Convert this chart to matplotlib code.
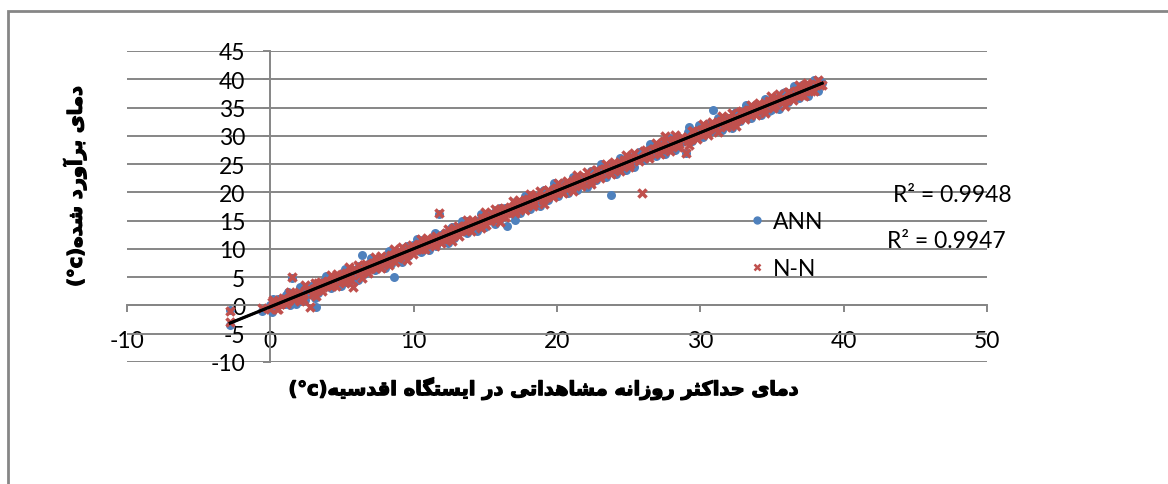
import numpy as np
import matplotlib.pyplot as plt
import matplotlib.patheffects as pe
from matplotlib.lines import Line2D
from matplotlib.patches import Rectangle

# observed daily max temperature (x) and the two model estimates (y)
observed = [
    -2.8, -2.8, -0.6, 0.2, 0.5, 0.9, 1.2, 1.4, 1.5, 1.8,
    2.1, 2.4, 2.8, 3.1, 3.2, 3.5, 3.9, 4.2, 4.6, 4.9,
    5.2, 5.5, 5.8, 6.1, 6.4, 6.7, 7.0, 7.3, 7.7, 8.0,
    8.3, 8.6, 8.9, 9.2, 9.5, 9.9, 10.2, 10.5, 10.8, 11.1,
    11.5, 11.8, 12.1, 12.4, 12.7, 13.1, 13.4, 13.7, 14.0, 14.4,
    14.7, 15.0, 15.3, 15.7, 16.0, 16.3, 16.5, 16.9, 17.1, 17.4,
    17.8, 18.1, 18.4, 18.8, 19.1, 19.4, 19.8, 20.1, 20.4, 20.8,
    21.1, 21.4, 21.8, 22.1, 22.4, 22.8, 23.1, 23.4, 23.8, 24.1,
    24.4, 24.8, 25.1, 25.4, 25.9, 26.2, 26.5, 26.9, 27.2, 27.5,
    27.9, 28.2, 28.5, 29.0, 29.2, 29.5, 29.9, 30.2, 30.5, 30.9,
    31.2, 31.5, 31.9, 32.2, 32.5, 32.9, 33.2, 33.5, 33.9, 34.2,
    34.5, 34.9, 35.2, 35.5, 35.9, 36.2, 36.5, 36.9, 37.2, 37.5,
    37.9, 38.2, 38.5,
    0.0, 0.35, 0.7, 1.05, 1.65, 1.95, 2.25, 2.6, 2.95, 3.35,
    3.7, 4.05, 4.4, 4.75, 5.05, 5.35, 5.65, 5.95, 6.25, 6.55,
    6.85, 7.15, 7.5, 7.85, 8.15, 8.45, 8.75, 9.05, 9.35, 9.7,
    10.05, 10.35, 10.65, 10.95, 11.3, 11.65, 11.95, 12.25, 12.55, 12.9,
    13.25, 13.55, 13.85, 14.2, 14.55, 14.85, 15.15, 15.5, 15.85, 16.15,
    16.45, 16.75, 17.0, 17.25, 17.6, 17.95, 18.25, 18.6, 18.95, 19.25,
    19.6, 19.95, 20.25, 20.6, 20.95, 21.25, 21.6, 21.95, 22.25, 22.6,
    22.95, 23.25, 23.6, 23.95, 24.25, 24.6, 24.95, 25.25, 25.65, 26.05,
    26.35, 26.7, 27.05, 27.35, 27.7, 28.05, 28.35, 28.75, 29.1, 29.35,
    29.7, 30.05, 30.35, 30.7, 31.05, 31.35, 31.7, 32.05, 32.35, 32.7,
    33.05, 33.35, 33.7, 34.05, 34.35, 34.7, 35.05, 35.35, 35.7, 36.05,
    36.35, 36.7, 37.05, 37.35, 37.7, 38.05, 38.35,
    0.1, 0.45, 0.8, 1.1, 1.35, 1.7, 2.0, 2.3, 2.65, 3.0,
    3.3, 3.6, 3.95, 4.3, 4.65, 5.0, 5.3, 5.6, 5.9, 6.2,
    6.5, 6.8, 7.1, 7.4, 7.75, 8.1, 8.4, 8.7, 9.0, 9.3,
    9.6, 9.95, 10.3, 10.6, 10.9, 11.2, 11.55, 11.9, 12.2, 12.5,
    12.8, 13.15, 13.45, 13.75, 14.1, 14.45, 14.75, 15.05, 15.4, 15.75,
    16.05, 16.4, 16.7, 17.05, 17.35, 17.7, 18.0, 18.35, 18.7, 19.0,
    19.35, 19.7, 20.0, 20.35, 20.7, 21.0, 21.35, 21.7, 22.0, 22.35,
    22.7, 23.0, 23.35, 23.7, 24.0, 24.35, 24.7, 25.0, 25.35, 25.75,
    26.1, 26.45, 26.8, 27.1, 27.45, 27.8, 28.1, 28.45, 28.8, 29.15,
    29.45, 29.8, 30.1, 30.45, 30.8, 31.1, 31.45, 31.8, 32.1, 32.45,
    32.8, 33.1, 33.45, 33.8, 34.1, 34.45, 34.8, 35.1, 35.45, 35.8,
    36.1, 36.45, 36.8, 37.1, 37.45, 37.8,
]

ann_pred = [
    -3.4, -0.8, -0.9, 1.2, 1.2, 0.2, 2.4, 0.1, 4.9, 0.3,
    3.2, 1.0, 3.2, 1.4, -0.2, 2.9, 5.2, 3.0, 4.6, 3.5,
    6.4, 4.2, 6.3, 4.5, 9.0, 6.2, 8.4, 6.2, 7.8, 6.6,
    9.6, 5.1, 9.5, 7.7, 10.5, 9.5, 11.7, 9.5, 11.0, 9.8,
    12.9, 16.2, 12.8, 11.0, 13.8, 12.8, 15.0, 12.8, 14.3, 13.2,
    16.1, 13.9, 16.1, 14.4, 17.2, 16.1, 14.0, 16.1, 15.2, 16.3,
    19.3, 17.1, 19.3, 17.6, 20.4, 19.3, 21.6, 19.4, 20.9, 19.8,
    22.7, 20.5, 22.8, 21.0, 23.8, 22.8, 25.0, 22.8, 19.6, 23.2,
    26.1, 24.0, 26.2, 24.4, 27.4, 26.3, 28.5, 26.4, 27.9, 26.7,
    29.7, 27.5, 29.7, 26.9, 31.6, 29.7, 32.0, 29.8, 31.3, 34.6,
    33.1, 31.0, 33.2, 31.4, 34.2, 33.2, 35.4, 33.2, 34.8, 33.6,
    36.5, 34.5, 36.6, 34.8, 37.7, 36.6, 38.8, 36.7, 38.2, 37.0,
    39.8, 38.0, 39.3,
    0.1, -0.2, 0.5, 0.3, 1.7, 1.6, 2.5, 2.0, 2.7, 3.4,
    3.9, 3.6, 4.3, 4.1, 5.2, 5.1, 6.0, 5.4, 6.1, 6.7,
    7.2, 6.8, 7.5, 7.3, 8.4, 8.3, 9.2, 8.6, 9.3, 9.9,
    10.5, 10.1, 10.8, 10.5, 11.6, 11.6, 12.5, 11.9, 12.6, 13.2,
    13.8, 13.4, 14.1, 13.8, 15.0, 14.9, 15.8, 15.3, 16.0, 16.5,
    17.0, 16.7, 17.3, 17.0, 18.1, 18.1, 19.0, 18.5, 19.2, 19.7,
    20.3, 20.0, 20.7, 20.4, 21.6, 21.5, 22.5, 21.9, 22.6, 23.2,
    23.7, 23.4, 24.1, 23.9, 25.0, 24.9, 25.9, 25.3, 26.1, 26.7,
    27.2, 26.9, 27.7, 27.4, 28.5, 28.5, 29.4, 28.9, 29.7, 30.1,
    30.7, 30.4, 31.1, 30.8, 32.0, 31.9, 32.9, 32.3, 33.0, 33.6,
    34.1, 33.8, 34.5, 34.3, 35.4, 35.3, 36.3, 35.7, 36.5, 37.0,
    37.5, 37.2, 38.0, 37.7, 38.8, 38.8, 39.7,
    -1.1, 0.9, 0.3, 1.8, 0.5, 1.9, 0.7, 2.6, 2.0, 3.7,
    2.2, 4.1, 3.6, 5.1, 3.9, 5.3, 4.1, 6.0, 5.4, 7.0,
    5.5, 7.4, 6.8, 8.3, 7.1, 8.4, 7.3, 9.2, 8.6, 10.2,
    8.7, 10.7, 10.1, 11.6, 10.3, 11.6, 10.5, 12.5, 11.9, 13.5,
    12.0, 13.9, 13.4, 14.9, 13.6, 15.0, 13.8, 15.7, 15.2, 16.8,
    15.3, 17.3, 16.7, 18.3, 17.0, 18.3, 17.1, 19.1, 18.6, 20.2,
    18.7, 20.7, 20.1, 21.7, 20.4, 21.7, 20.6, 22.6, 22.0, 23.6,
    22.2, 24.1, 23.6, 25.1, 23.8, 25.2, 24.0, 26.0, 25.4, 27.1,
    25.7, 27.6, 27.1, 28.6, 27.4, 28.7, 27.5, 29.5, 29.0, 30.6,
    29.1, 31.1, 30.5, 32.1, 30.8, 32.1, 31.0, 33.0, 32.4, 34.0,
    32.6, 34.5, 34.0, 35.5, 34.2, 35.6, 34.4, 36.4, 35.8, 37.5,
    36.0, 37.9, 37.4, 38.9, 37.7, 39.0,
]

nn_pred = [
    -3.0, -0.9, -0.5, 1.0, -0.6, 1.4, 0.7, 2.4, 5.0, 2.0,
    0.8, 3.6, -0.2, 4.0, 1.6, 4.1, 3.5, 5.3, 3.5, 5.3,
    4.0, 6.8, 3.2, 7.1, 4.9, 7.4, 6.7, 8.5, 6.7, 8.4,
    7.2, 10.0, 8.4, 10.3, 8.1, 10.7, 10.0, 11.8, 9.9, 11.6,
    10.5, 16.3, 11.7, 13.6, 11.4, 14.0, 13.3, 15.1, 13.2, 15.0,
    13.7, 16.6, 15.0, 17.0, 14.8, 17.3, 16.5, 18.4, 16.4, 18.1,
    16.9, 19.7, 18.2, 20.2, 18.0, 20.5, 19.9, 21.7, 19.8, 21.6,
    20.3, 23.1, 21.7, 23.6, 21.4, 24.0, 23.3, 25.1, 23.3, 25.0,
    23.7, 26.6, 25.1, 27.0, 19.8, 27.5, 26.8, 28.7, 26.8, 29.9,
    27.3, 30.1, 28.6, 26.9, 28.4, 30.9, 30.3, 32.1, 30.2, 32.0,
    30.7, 33.5, 32.1, 34.0, 31.8, 34.4, 33.7, 35.5, 33.7, 35.4,
    34.1, 37.0, 35.5, 37.4, 35.3, 37.8, 37.1, 39.0, 37.1, 38.8,
    38.0, 39.8, 39.0,
    -0.6, 0.5, 0.3, 1.1, 0.9, 1.9, 1.8, 2.9, 2.8, 2.8,
    3.2, 4.3, 4.1, 4.9, 4.4, 5.4, 5.3, 6.3, 6.2, 6.1,
    6.5, 7.5, 7.3, 8.1, 7.6, 8.6, 8.5, 9.5, 9.4, 9.3,
    9.8, 10.8, 10.6, 11.3, 10.8, 11.9, 11.8, 12.8, 12.7, 12.6,
    13.1, 14.1, 13.9, 14.6, 14.2, 15.2, 15.1, 16.2, 16.1, 15.9,
    16.3, 17.4, 17.1, 17.8, 17.3, 18.4, 18.3, 19.4, 19.3, 19.1,
    19.6, 20.7, 20.5, 21.2, 20.8, 21.8, 21.8, 22.8, 22.7, 22.6,
    23.0, 24.1, 23.9, 24.7, 24.2, 25.2, 25.2, 26.2, 26.2, 26.1,
    26.5, 27.6, 27.5, 28.2, 27.7, 28.8, 28.7, 29.8, 29.8, 29.5,
    30.0, 31.1, 30.9, 31.6, 31.2, 32.2, 32.2, 33.2, 33.1, 33.0,
    33.4, 34.5, 34.3, 35.1, 34.6, 35.6, 35.6, 36.6, 36.6, 36.4,
    36.8, 37.9, 37.8, 38.5, 38.0, 39.1, 39.0,
    0.6, -0.7, 0.8, 0.2, 2.1, 1.2, 2.4, 1.1, 2.5, 2.1,
    3.9, 2.5, 4.1, 3.5, 5.5, 4.6, 5.8, 4.5, 5.9, 5.4,
    7.2, 5.8, 7.3, 6.7, 8.7, 7.7, 9.0, 7.7, 9.1, 8.6,
    10.4, 9.1, 10.6, 10.0, 11.9, 10.9, 12.2, 11.0, 12.4, 11.9,
    13.7, 12.3, 13.9, 13.3, 15.2, 14.3, 15.5, 14.2, 15.7, 15.2,
    17.0, 15.7, 17.2, 16.7, 18.6, 17.6, 18.8, 17.6, 19.1, 18.6,
    20.4, 19.1, 20.6, 20.1, 22.0, 21.0, 22.3, 21.1, 22.5, 22.0,
    23.9, 22.5, 24.1, 23.5, 25.4, 24.5, 25.7, 24.5, 25.9, 25.5,
    27.4, 26.0, 27.6, 27.0, 29.0, 28.0, 29.2, 28.0, 29.5, 29.0,
    30.8, 29.5, 31.0, 30.5, 32.4, 31.4, 32.7, 31.5, 32.9, 32.4,
    34.3, 32.9, 34.5, 33.9, 35.8, 34.9, 36.1, 34.9, 36.3, 35.9,
    37.7, 36.3, 37.9, 37.3, 39.3, 38.3,
]

series_names = ["ANN", "N-N"]
r2_labels = ["R² = 0.9948", "R² = 0.9947"]
x_ticks = [-10, 0, 10, 20, 30, 40, 50]
y_ticks = [-10, -5, 0, 5, 10, 15, 20, 25, 30, 35, 40, 45]

x_title = "دمای حداکثر روزانه مشاهداتی در ایستگاه اقدسیه"
y_title = "دمای برآورد شده"
unit = "(°c)"

BLUE = "#4F81BD"
RED = "#C0504D"
GRID = "#868686"

# contextual forms: isolated, final, initial, medial (None = does not join forward)
FORMS = {
    "ا": ("\uFE8D", "\uFE8E", None, None),
    "آ": ("\uFE81", "\uFE82", None, None),
    "ب": ("\uFE8F", "\uFE90", "\uFE91", "\uFE92"),
    "ت": ("\uFE95", "\uFE96", "\uFE97", "\uFE98"),
    "ث": ("\uFE99", "\uFE9A", "\uFE9B", "\uFE9C"),
    "ح": ("\uFEA1", "\uFEA2", "\uFEA3", "\uFEA4"),
    "د": ("\uFEA9", "\uFEAA", None, None),
    "ر": ("\uFEAD", "\uFEAE", None, None),
    "ز": ("\uFEAF", "\uFEB0", None, None),
    "س": ("\uFEB1", "\uFEB2", "\uFEB3", "\uFEB4"),
    "ش": ("\uFEB5", "\uFEB6", "\uFEB7", "\uFEB8"),
    "ق": ("\uFED5", "\uFED6", "\uFED7", "\uFED8"),
    "ک": ("\uFB8E", "\uFB8F", "\uFB90", "\uFB91"),
    "گ": ("\uFB92", "\uFB93", "\uFB94", "\uFB95"),
    "م": ("\uFEE1", "\uFEE2", "\uFEE3", "\uFEE4"),
    "ن": ("\uFEE5", "\uFEE6", "\uFEE7", "\uFEE8"),
    "ه": ("\uFEE9", "\uFEEA", "\uFEEB", "\uFEEC"),
    "و": ("\uFEED", "\uFEEE", None, None),
    "ی": ("\uFBFC", "\uFBFD", "\uFBFE", "\uFBFF"),
}


def shape_rtl(text):
    out = []
    for i, ch in enumerate(text):
        if ch not in FORMS:
            out.append(ch)
            continue
        prev = text[i - 1] if i > 0 else ""
        nxt = text[i + 1] if i + 1 < len(text) else ""
        join_prev = prev in FORMS and FORMS[prev][2] is not None
        join_next = nxt in FORMS and FORMS[ch][2] is not None
        iso, fin, ini, med = FORMS[ch]
        if join_prev and join_next:
            out.append(med)
        elif join_prev:
            out.append(fin)
        elif join_next:
            out.append(ini)
        else:
            out.append(iso)
    return "".join(reversed(out))


plt.rcParams["font.family"] = ["Lato", "DejaVu Sans"]
plt.rcParams["axes.unicode_minus"] = False

fig = plt.figure(figsize=(11.68, 4.85), dpi=100)

# chart area border (only top and left edges fall inside the image)
fig.add_artist(Rectangle((8 / 1168, -0.2), 1.2, 1.2 - 12 / 485,
                         transform=fig.transFigure, fill=False,
                         edgecolor=GRID, lw=2))

ax = fig.add_axes([127 / 1168, 1 - 363 / 485, 860 / 1168, 311 / 485])
ax.set_xlim(-10, 50)
ax.set_ylim(-10, 45)
ax.set_xticks(x_ticks)
ax.set_yticks(y_ticks)

ax.grid(axis="y", color=GRID, lw=1.4)
ax.set_axisbelow(True)

for side in ["top", "right"]:
    ax.spines[side].set_visible(False)
ax.spines["left"].set_position(("data", 0))
ax.spines["bottom"].set_position(("data", 0))
for side in ["left", "bottom"]:
    ax.spines[side].set_color(GRID)
    ax.spines[side].set_linewidth(1.4)

ax.tick_params(axis="x", direction="out", length=5, width=1.4, color=GRID,
               pad=13, labelsize=16.5)
ax.tick_params(axis="y", direction="out", length=5, width=1.4, color=GRID,
               pad=13, labelsize=16.5)

obs = np.array(observed)
ann = np.array(ann_pred)
nn = np.array(nn_pred)

ax.scatter(obs, ann, s=42, color=BLUE, marker="o", linewidths=0, zorder=3)
ax.scatter(obs, nn, s=34, color=RED, marker="x", linewidths=2.5, zorder=4)

# linear trendlines for both models
xs = np.array([obs.min(), obs.max()])
for pred in (ann, nn):
    k, b = np.polyfit(obs, pred, 1)
    ax.plot(xs, k * xs + b, color="black", lw=2, zorder=5)

handles = [
    Line2D([], [], ls="none", marker="o", ms=5, color=BLUE),
    Line2D([], [], ls="none", marker="x", ms=4, mew=1.8, color=RED),
]
fig.legend(handles, series_names, loc="center left",
           bbox_to_anchor=(727 / 1168, 1 - 246 / 485), frameon=False,
           fontsize=16.5, handlelength=0.8, handletextpad=0.3,
           labelspacing=1.1)

fig.text(893 / 1168, 1 - 195 / 485, r2_labels[0], fontsize=16.5, va="center")
fig.text(887 / 1168, 1 - 242 / 485, r2_labels[1], fontsize=16.5, va="center")

heavy = [pe.withStroke(linewidth=0.9, foreground="black")]
fig.text(545 / 1168, 1 - 390 / 485, unit + shape_rtl(x_title),
         family="DejaVu Sans", weight="bold", fontsize=14,
         ha="center", va="center", path_effects=heavy)
fig.text(75 / 1168, 1 - 187 / 485, unit + shape_rtl(y_title),
         family="DejaVu Sans", weight="bold", fontsize=14,
         ha="center", va="center", rotation=90, path_effects=heavy)

fig.savefig("out.png", dpi=100)
